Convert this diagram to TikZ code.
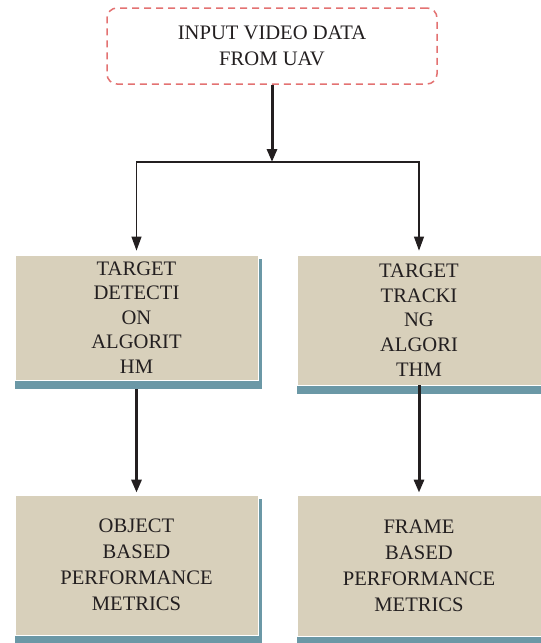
\documentclass[tikz,border=0pt]{standalone}
\usepackage{fontspec}
\setmainfont{Liberation Serif}
\usetikzlibrary{arrows.meta,backgrounds}
\definecolor{beige}{HTML}{D8D0BB}
\definecolor{barcol}{HTML}{6B98A6}
\definecolor{dashred}{HTML}{E37272}
\definecolor{ink}{HTML}{231F20}
\tikzset{
  boxtext/.style={align=center,text=ink,font=\fontsize{20.6}{25.5}\selectfont,inner sep=0pt},
  inbox/.style={boxtext,draw=dashred,line width=1.5pt,dash pattern=on 7pt off 5pt,rounded corners=10pt},
  stagebox/.style={boxtext,fill=beige,draw=white,line width=0.8pt},
  barshade/.style={fill=barcol},
  thickarrow/.style={draw=ink,line width=3pt,-{Triangle[length=13pt,width=10pt]}},
  thinarrow/.style={draw=ink,line width=1.1pt,-{Triangle[length=14pt,width=10pt]}}
}
\begin{document}
\begin{tikzpicture}[x=1pt,y=-1pt]
\useasboundingbox (0,0) rectangle (541,643);
\node[inbox,minimum width=330pt,minimum height=76pt] (in) at (272,46) {INPUT VIDEO DATA\\FROM UAV};
\node[stagebox,minimum width=243pt,minimum height=125pt,font=\fontsize{20.6}{24.5}\selectfont] (det) at (136.5,317.5) {TARGET\\DETECTI\\ON\\ALGORIT\\HM};
\node[stagebox,minimum width=244pt,minimum height=130pt,font=\fontsize{20.6}{24.8}\selectfont] (trk) at (419,320) {TARGET\\TRACKI\\NG\\ALGORI\\THM};
\node[stagebox,minimum width=243pt,minimum height=140pt,font=\fontsize{20.6}{26}\selectfont] (obj) at (136.5,565) {OBJECT\\BASED\\PERFORMANCE\\METRICS};
\node[stagebox,minimum width=244pt,minimum height=141pt,font=\fontsize{20.6}{26}\selectfont] (frm) at (419,565.5) {FRAME\\BASED\\PERFORMANCE\\METRICS};
\begin{scope}[on background layer]
  \fill[barshade] ([yshift=-4pt]det.north west) rectangle ([xshift=4pt,yshift=-9pt]det.south east);
  \fill[barshade] ([yshift=-4pt]trk.north west) rectangle ([xshift=4pt,yshift=-9pt]trk.south east);
  \fill[barshade] ([yshift=-4pt]obj.north west) rectangle ([xshift=4pt,yshift=-9pt]obj.south east);
  \fill[barshade] ([yshift=-4pt]frm.north west) rectangle ([xshift=4pt,yshift=-9pt]frm.south east);
\end{scope}
\coordinate (split) at (272,162);
\draw[thickarrow] (in.south) -- (split);
\draw[thinarrow,shorten >=4pt] (split) -| (det.north);
\draw[thinarrow,shorten >=4pt] (split) -| (trk.north);
\draw[thickarrow,shorten <=9pt,shorten >=2pt] (det.south) -- (obj.north);
\draw[thickarrow,shorten >=2pt] (trk.south) -- (frm.north);
\end{tikzpicture}
\end{document}
